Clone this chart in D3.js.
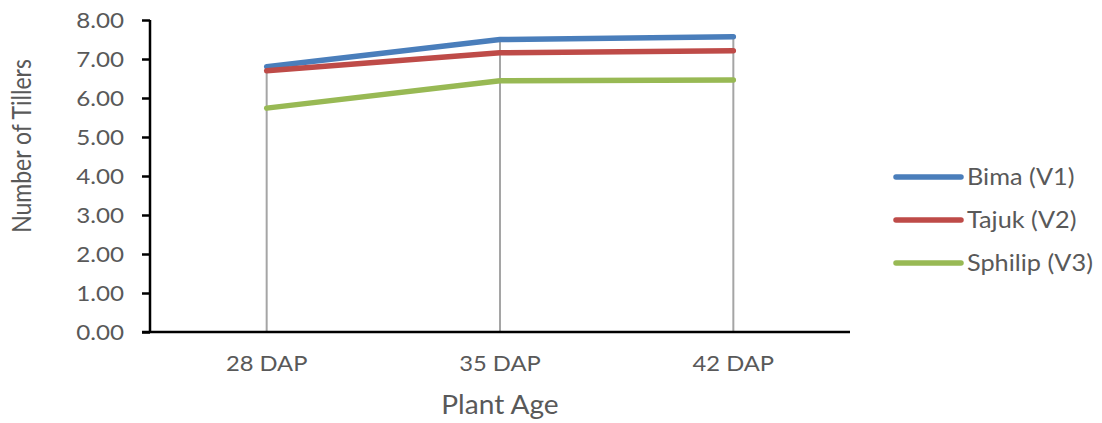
<!DOCTYPE html>
<html>
<head>
<meta charset="utf-8">
<script src="https://cdn.jsdelivr.net/npm/d3@7"></script>
<style>
  body { margin: 0; background: #fff; }
  text { font-family: Lato, "Open Sans", sans-serif; fill: #595959; }
</style>
</head>
<body>
<div id="container"></div>
<script>
// chart data
const categories = ["28 DAP", "35 DAP", "42 DAP"];
const seriesNames = ["Bima (V1)", "Tajuk (V2)", "Sphilip (V3)"];
const bima = [6.80, 7.50, 7.57];
const tajuk = [6.70, 7.16, 7.21];
const sphilip = [5.74, 6.44, 6.46];
const yTicks = [0, 1, 2, 3, 4, 5, 6, 7, 8];
const colors = ["#4A7EBB", "#BE4B48", "#98B954"];

const series = [bima, tajuk, sphilip];

const width = 1102, height = 423;
const margin = { left: 150, right: 252, top: 20, bottom: 91 };
const plotW = width - margin.left - margin.right;
const plotH = height - margin.top - margin.bottom;

// the source picture is a bit wider than tall, so stretch text horizontally
function stretch(sel, s) {
  sel.each(function () {
    const t = d3.select(this);
    const x0 = +t.attr("x") || 0;
    t.attr("x", x0 / s).attr("transform", "scale(" + s + ",1)");
  });
}

const svg = d3.select("#container")
  .append("svg")
  .attr("width", width)
  .attr("height", height);

const g = svg.append("g")
  .attr("transform", "translate(" + margin.left + "," + margin.top + ")");

let x = d3.scaleBand()
  .domain(categories)
  .range([0, plotW]);

let y = d3.scaleLinear()
  .domain([0, 8])
  .range([plotH, 0]);

// drop lines from axis to highest point
g.selectAll(".drop")
  .data(categories)
  .enter()
  .append("line")
  .attr("x1", d => x(d) + x.bandwidth() / 2)
  .attr("x2", d => x(d) + x.bandwidth() / 2)
  .attr("y1", plotH)
  .attr("y2", (d, i) => y(d3.max(series, s => s[i])))
  .attr("stroke", "#A5A5A5")
  .attr("stroke-width", 2);

// y axis
let yAxis = g.append("g")
  .call(d3.axisLeft(y).tickValues(yTicks).tickFormat(d3.format(".2f")).tickSize(8).tickPadding(18));
yAxis.select(".domain").attr("stroke", "#000").attr("stroke-width", 2.5).attr("d", "M0," + plotH + "V0");
yAxis.selectAll(".tick line").attr("stroke", "#000").attr("stroke-width", 2.5);
yAxis.selectAll(".tick text").style("font-size", "22px").attr("fill", "#595959").attr("dy", "0.36em");
stretch(yAxis.selectAll(".tick text"), 1.1);

// x axis
let xAxis = g.append("g")
  .attr("transform", "translate(0," + plotH + ")")
  .call(d3.axisBottom(x).tickSize(0));
xAxis.select(".domain").attr("stroke", "#000").attr("stroke-width", 2.5).attr("d", "M-8,0H" + plotW);
xAxis.selectAll(".tick text").style("font-size", "22px").attr("fill", "#595959").attr("y", 39).attr("dy", 0);
stretch(xAxis.selectAll(".tick text"), 1.08);

// series lines
let line = d3.line()
  .x((d, i) => x(categories[i]) + x.bandwidth() / 2)
  .y(d => y(d));

series.forEach((s, k) => {
  g.append("path")
    .datum(s)
    .attr("fill", "none")
    .attr("stroke", colors[k])
    .attr("stroke-width", 5.5)
    .attr("stroke-linecap", "round")
    .attr("stroke-linejoin", "round")
    .attr("d", line);
});

// axis titles
svg.append("text")
  .attr("transform", "translate(31,146) scale(1.15,1) rotate(-90)")
  .attr("text-anchor", "middle")
  .style("font-size", "23px")
  .text("Number of Tillers");

svg.append("g")
  .attr("transform", "translate(" + (margin.left + plotW / 2) + ",414)")
  .append("text")
  .attr("text-anchor", "middle")
  .style("font-size", "26px")
  .text("Plant Age")
  .call(stretch, 1.08);

// legend
const legend = svg.append("g").attr("transform", "translate(896,177)");
seriesNames.forEach((name, k) => {
  legend.append("line")
    .attr("x1", 0).attr("x2", 65)
    .attr("y1", k * 43).attr("y2", k * 43)
    .attr("stroke", colors[k])
    .attr("stroke-width", 5.5)
    .attr("stroke-linecap", "round");
  legend.append("g")
    .attr("transform", "translate(71," + (k * 43) + ")")
    .append("text")
    .attr("dy", "0.36em")
    .style("font-size", "23px")
    .text(name)
    .call(stretch, 1.1);
});
</script>
</body>
</html>
